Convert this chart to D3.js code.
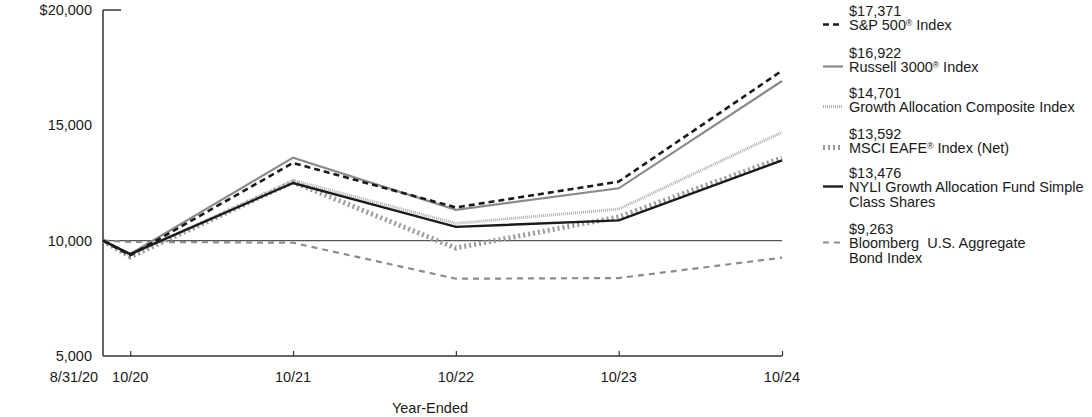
<!DOCTYPE html>
<html>
<head>
<meta charset="utf-8">
<script src="https://cdn.jsdelivr.net/npm/d3@7"></script>
<style>
  html, body { margin: 0; padding: 0; background: #fff; }
  svg { display: block; font-family: "Liberation Sans", Arial, sans-serif; }
  text { white-space: pre; }
</style>
</head>
<body>
<svg id="chart" width="1092" height="417"></svg>
<script>
// ---- data ----
const dates = ["2020-08-31", "2020-10-31", "2021-10-31", "2022-10-31", "2023-10-31", "2024-10-31"];
const xTickLabels = ["8/31/20", "10/20", "10/21", "10/22", "10/23", "10/24"];
const yTicks = [5000, 10000, 15000, 20000];
const yTickLabels = ["5,000", "10,000", "15,000", "$20,000"];

const sp500 = [10000, 9364, 13370, 11440, 12560, 17371];
const russell3000 = [10000, 9427, 13600, 11340, 12270, 16922];
const composite = [10000, 9370, 12610, 10750, 11370, 14701];
const msciEafe = [10000, 9300, 12540, 9680, 11030, 13592];
const fund = [10000, 9416, 12500, 10600, 10880, 13476];
const bloomberg = [10000, 9950, 9910, 8350, 8380, 9263];

const seriesNames = [
  ["S&P 500", "\u00AE", " Index"],
  ["Russell 3000", "\u00AE", " Index"],
  ["Growth Allocation Composite Index"],
  ["MSCI EAFE", "\u00AE", " Index (Net)"],
  ["NYLI Growth Allocation Fund Simple", "\n", "Class Shares"],
  ["Bloomberg  U.S. Aggregate", "\n", "Bond Index"]
];
const endLabels = ["$17,371", "$16,922", "$14,701", "$13,592", "$13,476", "$9,263"];

// ---- styles ----
const styles = [
  { color: "#1a1a1a", width: 2.6, dash: "6,4" },
  { color: "#8a8a8a", width: 2.2, dash: null },
  { color: "#b0b0b0", width: 3, dash: "1,1" },
  { color: "#9a9a9a", width: 5, dash: "2,3" },
  { color: "#1a1a1a", width: 2.4, dash: null },
  { color: "#8c8c8c", width: 2.2, dash: "6,5" }
];
const allSeries = [sp500, russell3000, composite, msciEafe, fund, bloomberg];

const FS = 14.5;
const svg = d3.select("#chart");
const parse = d3.timeParse("%Y-%m-%d");
const dts = dates.map(parse);

const x = d3.scaleTime().domain([dts[0], dts[dts.length - 1]]).range([103, 782]);
const y = d3.scaleLinear().domain([5000, 20000]).range([356, 10]);

const axisColor = "#333";
const textColor = "#1a1a1a";

// y-axis line
svg.append("line").attr("x1", 103).attr("x2", 103).attr("y1", y(20000)).attr("y2", y(5000))
  .attr("stroke", axisColor).attr("stroke-width", 1.5);
// top tick
svg.append("line").attr("x1", 103).attr("x2", 121).attr("y1", y(20000)).attr("y2", y(20000))
  .attr("stroke", axisColor).attr("stroke-width", 1.5);
// y labels
svg.selectAll(".ylab").data(yTicks).enter().append("text")
  .attr("x", 92).attr("y", d => y(d) + 5)
  .attr("text-anchor", "end").attr("font-size", FS).attr("fill", textColor)
  .text((d, i) => yTickLabels[i]);

// 10,000 reference line
svg.append("line").attr("x1", x(dts[0])).attr("x2", x(dts[dts.length - 1]))
  .attr("y1", y(10000)).attr("y2", y(10000))
  .attr("stroke", "#555").attr("stroke-width", 1.2);

// x axis
const xAxis = d3.axisBottom(x).tickValues(dts.slice(1)).tickSize(-5).tickFormat("");
const gx = svg.append("g").attr("transform", `translate(0,${y(5000)})`).call(xAxis);
gx.select(".domain").attr("stroke", axisColor).attr("stroke-width", 1.5).attr("d", `M103,0H782`);
gx.selectAll(".tick line").attr("stroke", axisColor).attr("stroke-width", 1.2);

svg.selectAll(".xlab").data(dts).enter().append("text")
  .attr("x", (d, i) => i === 0 ? 74 : x(d))
  .attr("y", 382)
  .attr("text-anchor", "middle").attr("font-size", FS).attr("fill", textColor)
  .text((d, i) => xTickLabels[i]);

svg.append("text").attr("x", 430).attr("y", 413).attr("text-anchor", "middle")
  .attr("font-size", FS).attr("fill", textColor).text("Year-Ended");

// lines (draw in back-to-front order)
const line = d3.line().x((d, i) => x(dts[i])).y(d => y(d));
const order = [5, 3, 2, 1, 0, 4];
order.forEach(k => {
  const s = styles[k];
  svg.append("path").datum(allSeries[k])
    .attr("d", line)
    .attr("fill", "none")
    .attr("stroke", s.color)
    .attr("stroke-width", s.width)
    .attr("stroke-dasharray", s.dash)
    .attr("stroke-linejoin", "miter");
});

// legend
const legendTops = [16, 58, 98, 139, 178, 234];
const lg = svg.append("g");
seriesNames.forEach((parts, k) => {
  const base = legendTops[k];
  const s = styles[k];
  const symY = base + 8.5;
  lg.append("line").attr("x1", 823).attr("x2", 843).attr("y1", symY).attr("y2", symY)
    .attr("stroke", s.color).attr("stroke-width", s.width).attr("stroke-dasharray", s.dash);
  lg.append("text").attr("x", 849).attr("y", base).attr("font-size", FS).attr("fill", textColor)
    .text(endLabels[k]);
  if (parts.length === 3 && parts[1] === "\n") {
    lg.append("text").attr("x", 849).attr("y", base + 14).attr("font-size", FS).attr("fill", textColor).text(parts[0]);
    lg.append("text").attr("x", 849).attr("y", base + 29).attr("font-size", FS).attr("fill", textColor).text(parts[2]);
  } else {
    const t = lg.append("text").attr("x", 849).attr("y", base + 14).attr("font-size", FS).attr("fill", textColor);
    t.append("tspan").text(parts[0]);
    if (parts.length === 3) {
      t.append("tspan").attr("font-size", 8.5).attr("dy", -4).text(parts[1]);
      t.append("tspan").attr("dy", 4).text(parts[2]);
    }
  }
});
</script>
</body>
</html>
